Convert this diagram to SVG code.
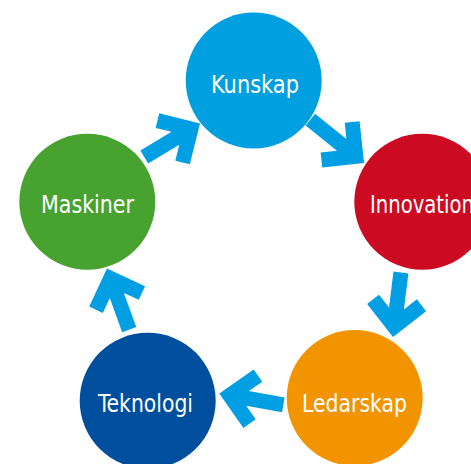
<svg xmlns="http://www.w3.org/2000/svg" width="471" height="464" viewBox="0 0 471 464">
<style>
.arrow{fill:#009FE3}
.lbl{fill:#FFFFFF;font-family:"Liberation Sans Narrow","DejaVu Sans Condensed","Liberation Sans",Arial,sans-serif;font-size:24.5px;text-anchor:middle}
</style>
<defs>
<polygon id="arr" points="0,0 -29.7,-29.7 -40.3,-19.1 -28.7,-7.5 -65,-7.5 -65,7.5 -28.7,7.5 -40.3,19.1 -29.7,29.7"/>
<polygon id="arrL" points="0,0 -29.7,-29.7 -40.3,-19.1 -28.7,-7.5 -69,-7.5 -69,7.5 -28.7,7.5 -40.3,19.1 -29.7,29.7"/>
</defs>
<rect width="471" height="464" fill="#FFFFFF"/>
<g id="connectors">
<use href="#arrL" class="arrow" transform="translate(364,163) rotate(39)"/>
<use href="#arr" class="arrow" transform="translate(393,337) rotate(97)"/>
<use href="#arr" class="arrow" transform="translate(219.3,393.5) rotate(190)"/>
<use href="#arr" class="arrow" transform="translate(107,268.5) rotate(-110)"/>
<use href="#arr" class="arrow" transform="translate(200,123.5) rotate(-31)"/>
</g>
<g id="kunskap">
<circle cx="253.7" cy="80.5" r="68" fill="#009FE0"/>
<text class="lbl" x="255" y="93" textLength="88" lengthAdjust="spacingAndGlyphs">Kunskap</text>
</g>
<g id="innovation">
<circle cx="422.3" cy="201.7" r="68" fill="#CC0A21"/>
<text class="lbl" x="422" y="213" textLength="104" lengthAdjust="spacingAndGlyphs">Innovation</text>
</g>
<g id="ledarskap">
<circle cx="354.7" cy="398" r="68" fill="#F29400"/>
<text class="lbl" x="354.5" y="412" textLength="105" lengthAdjust="spacingAndGlyphs">Ledarskap</text>
</g>
<g id="teknologi">
<circle cx="147.7" cy="400.7" r="68" fill="#004F9E"/>
<text class="lbl" x="145.5" y="412" textLength="95" lengthAdjust="spacingAndGlyphs">Teknologi</text>
</g>
<g id="maskiner">
<circle cx="87.3" cy="201.7" r="68" fill="#48A22F"/>
<text class="lbl" x="87.5" y="213" textLength="93" lengthAdjust="spacingAndGlyphs">Maskiner</text>
</g>
</svg>
